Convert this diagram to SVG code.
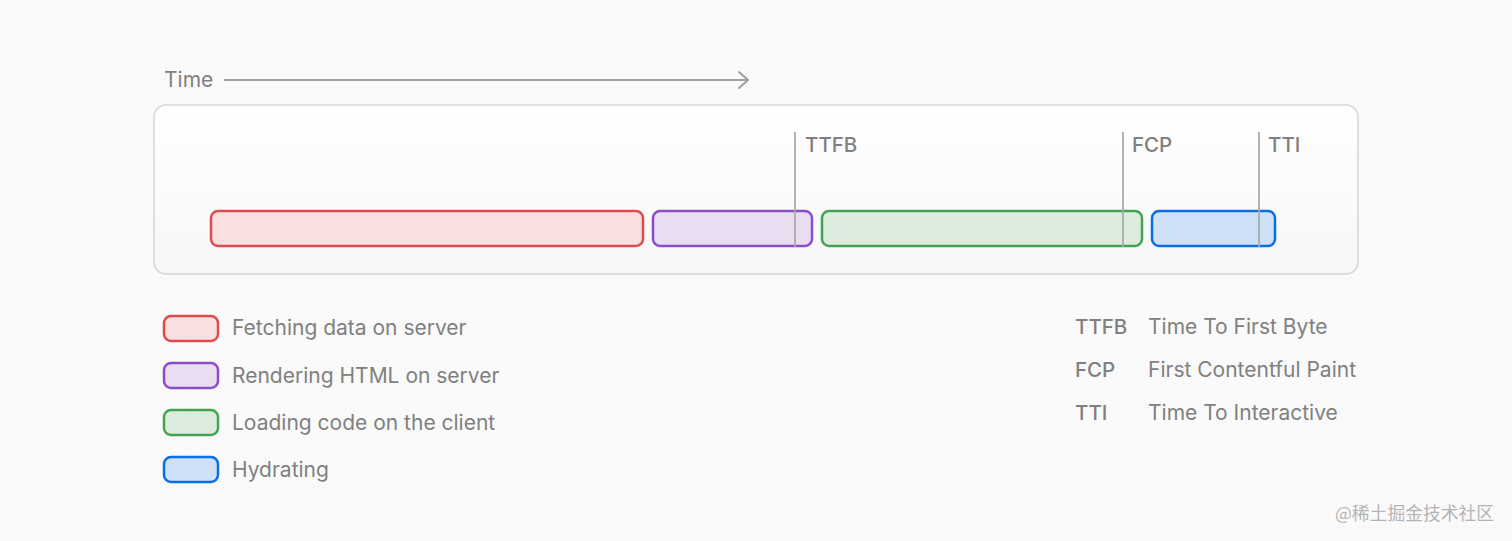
<svg xmlns="http://www.w3.org/2000/svg" width="1512" height="541" viewBox="0 0 1512 541">
  <defs>
    <pattern id="grid" width="20" height="20" patternUnits="userSpaceOnUse" x="5" y="7">
      <path d="M20 0H0V20" fill="none" stroke="#f3f3f3" stroke-width="1"/>
    </pattern>
    <linearGradient id="panelFill" x1="0" y1="0" x2="0" y2="1">
      <stop offset="0" stop-color="#ffffff"/>
      <stop offset="1" stop-color="#f7f7f7"/>
    </linearGradient>
    <marker id="chev" markerWidth="14" markerHeight="20" refX="12" refY="10" orient="auto" markerUnits="userSpaceOnUse">
      <path d="M3 2 L12 10 L3 18" fill="none" stroke="#a0a0a0" stroke-width="2" stroke-linecap="round" stroke-linejoin="round"/>
    </marker>
  </defs>
  <style>
    .t { font-family: Inter, "Noto Sans", "Liberation Sans", sans-serif; font-size: 21px; fill: #808080; }
    .b { font-weight: 500; font-size: 20.5px; }
    .bar { stroke-width: 2.5; }
    .red { fill: #f8dfe0; stroke: #df4b4f; }
    .purple { fill: #e9ddf2; stroke: #8a4fc8; }
    .green { fill: #dcede0; stroke: #44a352; }
    .blue { fill: #cfe1f7; stroke: #0a6fe6; }
    .mark { stroke: #a8a8a8; stroke-width: 2; opacity: 0.85; }
  </style>
  <rect width="1512" height="541" fill="#fafafa"/>
  <rect width="1512" height="541" fill="url(#grid)"/>

  <g id="time-axis">
    <text class="t" x="164" y="87" font-size="20.3">Time</text>
  </g>

  <g id="panel">
    <rect x="154" y="105" width="1204" height="169" rx="12" fill="url(#panelFill)" stroke="#d6d6d6" stroke-width="1.5"/>
  </g>

  <g id="bar-fetch"><rect class="bar red" x="211" y="211" width="432" height="35" rx="7"/></g>
  <g id="bar-render"><rect class="bar purple" x="653" y="211" width="159" height="35" rx="7"/></g>
  <g id="bar-load"><rect class="bar green" x="822" y="211" width="320" height="35" rx="7"/></g>
  <g id="bar-hydrate"><rect class="bar blue" x="1152" y="211" width="123" height="35" rx="7"/></g>

  <g id="connectors">
    <line x1="224" y1="80" x2="748" y2="80" stroke="#a0a0a0" stroke-width="2" marker-end="url(#chev)"/>
    <line class="mark" x1="795" y1="132" x2="795" y2="247"/>
    <line class="mark" x1="1123" y1="132" x2="1123" y2="247"/>
    <line class="mark" x1="1259" y1="132" x2="1259" y2="247"/>
  </g>

  <g id="marker-ttfb"><text class="t b" x="805" y="152">TTFB</text></g>
  <g id="marker-fcp"><text class="t b" x="1132" y="152">FCP</text></g>
  <g id="marker-tti"><text class="t b" x="1268" y="152">TTI</text></g>

  <g id="legend-fetch">
    <rect class="bar red" x="164" y="316" width="54" height="25" rx="7"/>
    <text class="t" x="232" y="335">Fetching data on server</text>
  </g>
  <g id="legend-render">
    <rect class="bar purple" x="164" y="363" width="54" height="25" rx="7"/>
    <text class="t" x="232" y="383">Rendering HTML on server</text>
  </g>
  <g id="legend-load">
    <rect class="bar green" x="164" y="410" width="54" height="25" rx="7"/>
    <text class="t" x="232" y="430">Loading code on the client</text>
  </g>
  <g id="legend-hydrate">
    <rect class="bar blue" x="164" y="457" width="54" height="25" rx="7"/>
    <text class="t" x="232" y="477">Hydrating</text>
  </g>

  <g id="abbr-ttfb">
    <text class="t b" x="1075" y="334">TTFB</text>
    <text class="t" x="1148" y="334">Time To First Byte</text>
  </g>
  <g id="abbr-fcp">
    <text class="t b" x="1075" y="377">FCP</text>
    <text class="t" x="1148" y="377">First Contentful Paint</text>
  </g>
  <g id="abbr-tti">
    <text class="t b" x="1075" y="420">TTI</text>
    <text class="t" x="1148" y="420">Time To Interactive</text>
  </g>

  <g id="watermark">
    <text x="1335" y="520" font-family="'Noto Sans CJK SC', 'Noto Sans', sans-serif" font-size="17.8" fill="#b4b4b4">@稀土掘金技术社区</text>
  </g>
</svg>
